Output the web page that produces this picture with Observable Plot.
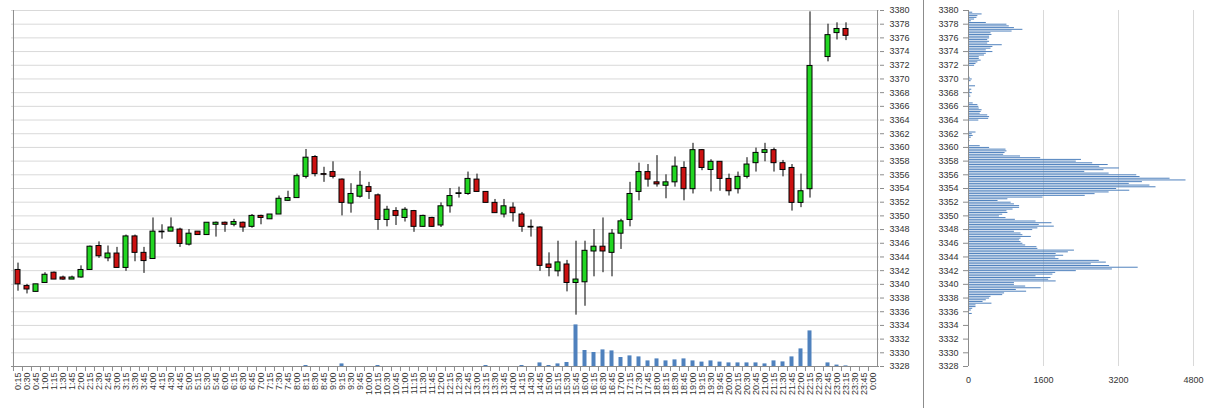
<!DOCTYPE html>
<html><head><meta charset="utf-8">
<script src="https://cdn.jsdelivr.net/npm/d3@7"></script>
<script src="https://cdn.jsdelivr.net/npm/@observablehq/plot@0.6"></script>
<style>
body{margin:0;background:#fff;}
#wrap{position:relative;width:1210px;height:408px;overflow:hidden;}
#wrap svg{position:absolute;top:0;}
#sep{position:absolute;left:923px;top:0;width:1px;height:408px;background:#8c8c8c;}
</style></head><body><div id="wrap"><div id="sep"></div></div>
<script>
const times = ["0:15","0:30","0:45","1:00","1:15","1:30","1:45","2:00","2:15","2:30","2:45","3:00","3:15","3:30","3:45","4:00","4:15","4:30","4:45","5:00","5:15","5:30","5:45","6:00","6:15","6:30","6:45","7:00","7:15","7:30","7:45","8:00","8:15","8:30","8:45","9:00","9:15","9:30","9:45","10:00","10:15","10:30","10:45","11:00","11:15","11:30","11:45","12:00","12:15","12:30","12:45","13:00","13:15","13:30","13:45","14:00","14:15","14:30","14:45","15:00","15:15","15:30","15:45","16:00","16:15","16:30","16:45","17:00","17:15","17:30","17:45","18:00","18:15","18:30","18:45","19:00","19:15","19:30","19:45","20:00","20:15","20:30","20:45","21:00","21:15","21:30","21:45","22:00","22:15","22:30","22:45","23:00","23:15","23:30","23:45","0:00"];

const open  = [3342.1,3339.75,3338.9,3340.2,3341.7,3341.0,3340.7,3341.0,3342.1,3345.6,3343.8,3344.5,3342.4,3347.0,3344.6,3343.7,3347.6,3347.7,3348.0,3345.8,3347.7,3347.2,3348.7,3349.0,3348.7,3349.0,3348.4,3350.0,3349.5,3350.2,3352.2,3352.6,3355.7,3358.6,3356.1,3356.4,3355.3,3351.8,3352.8,3354.2,3353.0,3349.4,3350.7,3349.7,3350.7,3348.4,3349.7,3348.6,3351.4,3353.2,3353.2,3355.3,3353.5,3351.9,3350.2,3351.2,3350.2,3348.4,3348.3,3342.9,3341.9,3342.9,3340.2,3340.3,3344.8,3345.5,3344.6,3347.4,3349.4,3353.5,3356.4,3354.9,3354.4,3354.9,3357.0,3353.9,3359.6,3356.7,3357.9,3355.4,3353.9,3355.7,3357.7,3359.2,3359.6,3357.7,3357.0,3351.9,3353.9,null,3373.2,3376.7,3377.3,null,null,null];
const high  = [3343.1,3340.0,3340.0,3341.7,3341.8,3341.2,3341.2,3342.7,3345.6,3346.2,3345.6,3345.4,3347.2,3347.2,3345.4,3349.7,3348.7,3349.7,3348.2,3348.0,3347.7,3349.0,3349.1,3349.1,3349.5,3349.1,3350.2,3350.1,3350.2,3352.9,3353.6,3356.1,3359.7,3358.8,3357.1,3357.9,3355.4,3354.7,3356.5,3354.9,3353.2,3351.4,3351.2,3351.2,3350.8,3350.1,3349.8,3351.9,3354.0,3354.2,3356.4,3356.1,3353.5,3352.4,3352.4,3351.9,3350.5,3349.4,3348.4,3344.6,3346.3,3343.5,3346.3,3346.3,3348.0,3349.7,3348.0,3349.5,3354.9,3357.7,3357.5,3358.8,3356.0,3358.6,3357.9,3360.6,3359.7,3358.2,3357.9,3356.1,3356.4,3358.5,3359.9,3360.6,3359.9,3358.1,3357.5,3356.1,3379.8,null,3378.0,3378.2,3378.2,null,null,null];
const low   = [3339.0,3338.6,3338.9,3340.2,3340.7,3340.6,3340.7,3340.9,3342.1,3343.8,3343.3,3342.4,3341.9,3343.3,3341.6,3343.7,3346.6,3347.7,3345.4,3345.6,3347.2,3347.2,3346.9,3347.6,3348.4,3347.6,3348.2,3348.7,3349.5,3350.2,3352.1,3352.6,3355.4,3355.7,3354.9,3355.4,3350.0,3350.4,3352.6,3352.4,3347.9,3348.4,3348.6,3349.1,3347.6,3348.3,3348.3,3348.3,3350.4,3352.6,3353.0,3353.5,3351.9,3350.4,3349.7,3349.1,3347.6,3346.9,3341.9,3341.1,3341.1,3338.9,3335.5,3336.8,3341.1,3341.7,3341.1,3345.1,3348.4,3352.2,3354.2,3354.2,3352.5,3354.2,3352.2,3353.2,3356.6,3353.5,3353.6,3352.9,3353.2,3355.4,3356.4,3357.9,3356.4,3355.7,3350.7,3351.2,3352.6,null,3372.5,3375.7,3375.6,null,null,null];
const close = [3340.0,3339.25,3340.0,3341.4,3340.7,3340.7,3341.0,3342.1,3345.5,3344.1,3344.5,3342.4,3347.0,3344.6,3343.4,3347.7,3347.7,3348.3,3345.9,3347.4,3347.2,3349.0,3349.0,3348.7,3349.1,3348.3,3350.0,3349.7,3350.2,3352.5,3352.6,3355.8,3358.5,3356.1,3356.0,3355.7,3351.9,3353.2,3354.4,3353.5,3349.4,3350.9,3350.0,3350.9,3348.4,3350.0,3348.4,3351.4,3352.9,3353.3,3355.4,3353.5,3351.9,3350.4,3351.4,3350.4,3348.4,3348.3,3342.7,3342.4,3343.2,3340.2,3340.7,3344.9,3345.5,3344.8,3347.4,3349.2,3353.2,3356.4,3355.3,3354.6,3354.9,3357.2,3353.9,3359.6,3357.0,3357.9,3355.4,3353.6,3355.7,3357.5,3359.2,3359.6,3357.7,3356.7,3351.9,3353.6,3371.9,null,3376.4,3377.3,3376.3,null,null,null];
const volume = [0,0,0,0,0,0,0,0,0,0,0,0,0,0,0,0,0,0,0,0,0,0,0,0,0,0,0,0,0,0,0,0,500,0,0,0,1300,0,0,0,500,0,0,0,0,0,0,0,0,0,0,0,500,0,0,0,500,0,1800,500,1300,2000,20800,8000,7000,8300,7800,4500,5300,4800,2800,3800,2800,3300,3800,2800,2200,2800,2200,1800,1800,1800,1800,1300,2800,2300,4800,8800,17800,0,1800,700,300,0,0,0];

const profPrice = [3379.75,3379.5,3379.25,3379,3378.75,3378.5,3378.25,3378,3377.75,3377.5,3377.25,3377,3376.75,3376.5,3376.25,3376,3375.75,3375.5,3375.25,3375,3374.75,3374.5,3374.25,3374,3373.75,3373.5,3373.25,3373,3372.75,3372.5,3372.25,3372,3371.75,3371.5,3371.25,3371,3370.75,3370.5,3370.25,3370,3369.75,3369.5,3369.25,3369,3368.75,3368.5,3368.25,3368,3367.75,3367.5,3367.25,3367,3366.75,3366.5,3366.25,3366,3365.75,3365.5,3365.25,3365,3364.75,3364.5,3364.25,3364,3363.75,3363.5,3363.25,3363,3362.75,3362.5,3362.25,3362,3361.75,3361.5,3361.25,3361,3360.75,3360.5,3360.25,3360,3359.75,3359.5,3359.25,3359,3358.75,3358.5,3358.25,3358,3357.75,3357.5,3357.25,3357,3356.75,3356.5,3356.25,3356,3355.75,3355.5,3355.25,3355,3354.75,3354.5,3354.25,3354,3353.75,3353.5,3353.25,3353,3352.75,3352.5,3352.25,3352,3351.75,3351.5,3351.25,3351,3350.75,3350.5,3350.25,3350,3349.75,3349.5,3349.25,3349,3348.75,3348.5,3348.25,3348,3347.75,3347.5,3347.25,3347,3346.75,3346.5,3346.25,3346,3345.75,3345.5,3345.25,3345,3344.75,3344.5,3344.25,3344,3343.75,3343.5,3343.25,3343,3342.75,3342.5,3342.25,3342,3341.75,3341.5,3341.25,3341,3340.75,3340.5,3340.25,3340,3339.75,3339.5,3339.25,3339,3338.75,3338.5,3338.25,3338,3337.75,3337.5,3337.25,3337,3336.75,3336.5,3336.25,3336,3335.75];
const profVol = [90,290,200,180,130,60,380,820,870,980,1160,930,480,500,450,450,410,450,410,720,520,480,380,520,380,340,230,230,270,200,160,130,20,20,10,15,10,10,35,80,55,20,10,150,20,70,40,80,30,50,10,20,15,100,200,220,230,290,270,250,410,450,430,220,10,20,10,5,15,10,160,80,100,60,20,30,20,10,250,450,800,820,780,750,1110,1540,2410,2300,2650,2980,2800,3220,2890,2480,3000,3590,3660,4300,4640,3710,3430,3870,4000,3160,3440,3000,2700,2490,1590,840,630,910,980,1090,1090,950,820,840,730,660,800,1000,1440,1780,1510,1830,1480,1370,980,1120,1160,1340,1120,1090,1120,1160,1220,1460,1480,2260,2130,1870,2030,1860,1930,2790,2940,2620,3010,3620,3070,2300,1860,1800,1440,1760,1710,1870,980,980,1220,1550,1020,1240,770,730,480,450,380,310,500,160,160,90,60,20,80];

const priceTicks = [3328,3330,3332,3334,3336,3338,3340,3342,3344,3346,3348,3350,3352,3354,3356,3358,3360,3362,3364,3366,3368,3370,3372,3374,3376,3378,3380];
const profTicks = [0,1600,3200,4800];

const FONT = '"Liberation Sans", Arial, sans-serif';
const GREEN = "#22d622", RED = "#cc1111", BLUE = "#4f81bd", GRID = "#d9d9d9", AXIS = "#8c8c8c", TXT = "#333";

const rows = times.map((t, i) => ({t, o: open[i], h: high[i], l: low[i], c: close[i], v: volume[i]}));
const candles = rows.filter(d => d.o != null);
const vols = rows.filter(d => d.v > 0);
const profile = profPrice.map((p, i) => ({p, v: profVol[i]}));

const LW = 923, H = 408, ML = 11, MR = 44, MT = 10, MB = 42;
const step = (LW - ML - MR) / times.length;
const xBand = {type: "band", domain: times, paddingInner: 0.45, paddingOuter: 0.225, label: null};

const left = Plot.plot({
  width: LW, height: H, marginLeft: ML, marginRight: MR, marginTop: MT, marginBottom: MB,
  style: {fontFamily: FONT, fontSize: "9px", color: TXT, background: "transparent", overflow: "visible"},
  x: xBand,
  y: {domain: [3328, 3380], label: null},
  marks: [
    Plot.gridY(priceTicks, {stroke: GRID, strokeOpacity: 1}),
    Plot.ruleY([3328], {stroke: AXIS}),
    Plot.ruleX([times[0]], {stroke: AXIS, dx: -step / 2}),
    Plot.ruleX([times[times.length - 1]], {stroke: AXIS, dx: step / 2}),
    Plot.axisY(priceTicks, {anchor: "right", tickSize: 4, tickPadding: 6, tickFormat: "d", stroke: AXIS, fill: TXT, label: null, dx: 0}),
    Plot.axisX({tickSize: 5, stroke: AXIS, fill: "none", dx: -step / 2, label: null}),
    Plot.axisX({tickSize: 0, tickPadding: 6, tickRotate: -90, fill: TXT, label: null}),
    Plot.ruleX(candles, {x: "t", y1: "l", y2: "h", stroke: "#000", strokeWidth: 1}),
    Plot.barY(candles.filter(d => d.c >= d.o), {x: "t", y1: "o", y2: "c", fill: GREEN, stroke: "#000", strokeWidth: 1}),
    Plot.barY(candles.filter(d => d.c < d.o), {x: "t", y1: "c", y2: "o", fill: RED, stroke: "#000", strokeWidth: 1})
  ]
});
left.style.left = "0px";

const volPlot = Plot.plot({
  width: LW, height: H, marginLeft: ML, marginRight: MR, marginTop: MT, marginBottom: MB,
  style: {background: "transparent"},
  x: {...xBand, axis: null},
  y: {domain: [0, 178000], axis: null},
  marks: [
    Plot.barY(vols, {x: "t", y: "v", fill: BLUE, insetLeft: 0.5, insetRight: 0.5})
  ]
});
volPlot.style.left = "0px";

const RW = 1210 - 923;
const right = Plot.plot({
  width: RW, height: H, marginLeft: 45, marginRight: 17, marginTop: MT, marginBottom: MB,
  style: {fontFamily: FONT, fontSize: "9px", color: TXT, background: "transparent", overflow: "visible"},
  x: {domain: [0, 4800], label: null},
  y: {domain: [3328, 3380], label: null},
  marks: [
    Plot.gridX([1600, 3200, 4800], {stroke: GRID, strokeOpacity: 1}),
    Plot.ruleY(profile, {y: "p", x1: 0, x2: "v", stroke: BLUE, strokeWidth: 1}),
    Plot.ruleX([0], {stroke: AXIS}),
    Plot.axisY(priceTicks, {anchor: "left", tickSize: 5, tickPadding: 5, tickFormat: "d", stroke: AXIS, fill: TXT, label: null}),
    Plot.axisX(profTicks, {anchor: "bottom", tickSize: 0, tickPadding: 10, tickFormat: "d", fill: TXT, label: null})
  ]
});
right.style.left = "923px";

const wrap = document.getElementById("wrap");
wrap.appendChild(left);
wrap.appendChild(volPlot);
wrap.appendChild(right);
</script>
</body></html>
